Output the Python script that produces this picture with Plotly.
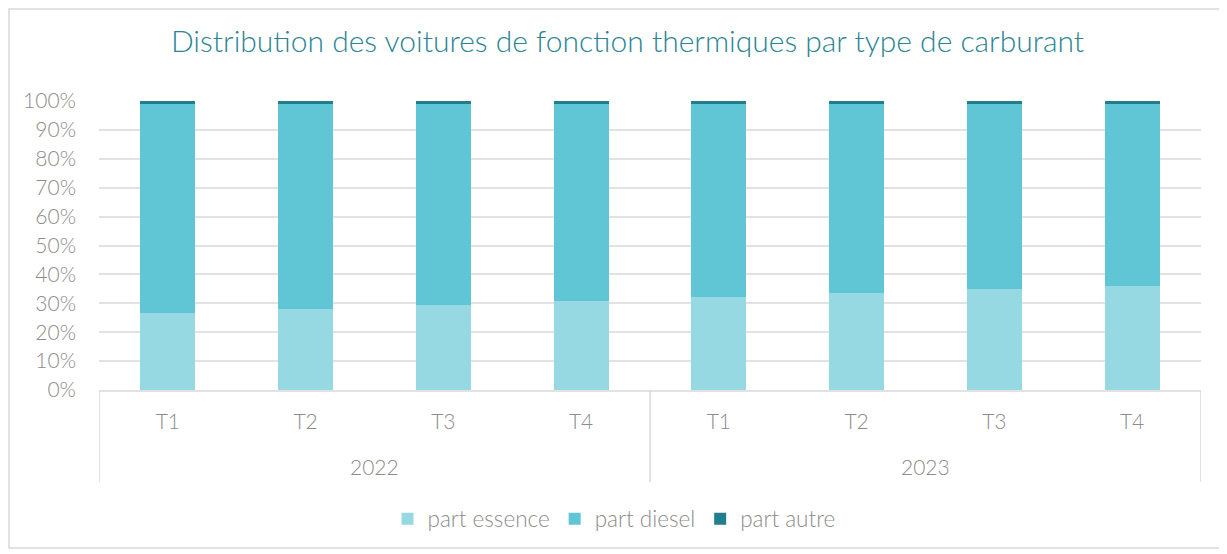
import plotly.graph_objects as go

years = ["2022", "2022", "2022", "2022", "2023", "2023", "2023", "2023"]
quarters = ["T1", "T2", "T3", "T4", "T1", "T2", "T3", "T4"]
part_essence = [0.266, 0.280, 0.294, 0.308, 0.322, 0.336, 0.349, 0.361]
part_autre = [0.010, 0.010, 0.010, 0.010, 0.010, 0.010, 0.010, 0.010]
part_diesel = [1 - e - a for e, a in zip(part_essence, part_autre)]
year_groups = ["2022", "2023"]

series = [
    ("part essence", part_essence, "#97D9E3"),
    ("part diesel", part_diesel, "#60C6D5"),
    ("part autre", part_autre, "#217E8C"),
]

FONT = "Lato"
GRAY = "#8C8C8C"
cats = [f"{y} {q}" for y, q in zip(years, quarters)]

fig = go.Figure()
for name, vals, col in series:
    fig.add_trace(go.Bar(
        x=cats, y=vals, name=name,
        marker=dict(color=col, line=dict(width=0)),
        hovertemplate="%{y:.1%}<extra>" + name + "</extra>",
    ))

# page body adds an 8px offset; work in reference coordinates minus 8
OFF = 8
W, H = 1227 - OFF, 554 - OFF
L, R, T, B = 99 - OFF, 26, 101 - OFF, 164
pw, ph = W - L - R, H - T - B

def px(xp):
    return (xp - OFF - L) / pw

def py(yp):
    return (H - B - (yp - OFF)) / ph

annotations = []
for i, yr in enumerate(year_groups):
    annotations.append(dict(text=yr, xref="x", yref="paper", x=i * 4 + 1.5, y=py(467),
                            xanchor="center", yanchor="middle", showarrow=False,
                            font=dict(family=FONT, size=21, color=GRAY, weight=300)))

shapes = []
for xd in [-0.5, 3.5, 7.5]:
    shapes.append(dict(type="line", xref="x", yref="paper", x0=xd, x1=xd,
                       y0=0, y1=py(482), line=dict(color="#D9D9D9", width=1.5)))
shapes.append(dict(type="rect", xref="paper", yref="paper",
                   x0=(1 - L) / pw, x1=px(1222), y0=py(548), y1=(H - B - 1) / ph,
                   line=dict(color="#D9D9D9", width=1.5), fillcolor="rgba(0,0,0,0)",
                   layer="below"))

fig.update_layout(
    width=W, height=H,
    barmode="stack", bargap=0.6,
    margin=dict(l=L, r=R, t=T, b=B, autoexpand=False),
    paper_bgcolor="white", plot_bgcolor="white",
    font=dict(family=FONT, color=GRAY, size=21, weight=300),
    title=dict(text="Distribution des voitures de fonction thermiques par type de carburant",
               x=(627.5 - OFF) / W, xanchor="center", y=1 - (41 - OFF) / H, yanchor="middle",
               font=dict(family=FONT, size=30, color="#2A8593", weight=300)),
    legend=dict(orientation="h", x=px(614), xanchor="center", y=py(519), yanchor="middle",
                font=dict(family=FONT, size=22.5, color=GRAY, weight=300), traceorder="normal",
                itemwidth=30, bgcolor="rgba(0,0,0,0)"),
    yaxis=dict(range=[0, 1], dtick=0.1, tickformat=".0%", showgrid=True,
               gridcolor="#E2E2E2", gridwidth=2, zeroline=False, showline=False,
               ticks="", ticklen=0, automargin=False, ticklabelstandoff=22,
               tickfont=dict(family=FONT, size=21, color=GRAY, weight=300)),
    xaxis=dict(type="category", range=[-0.5, 7.5], tickvals=cats, ticktext=quarters,
               showline=True, linecolor="#E2E2E2", linewidth=2, showgrid=False,
               ticks="", ticklabelstandoff=12, automargin=False,
               tickfont=dict(family=FONT, size=21, color=GRAY, weight=300)),
    annotations=annotations,
    shapes=shapes,
)

fig.write_html("out.html")
